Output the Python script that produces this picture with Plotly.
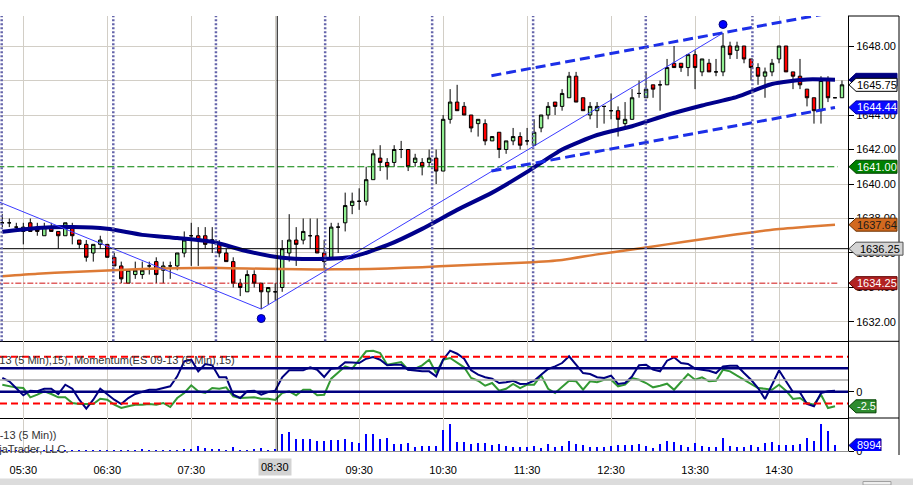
import pandas as pd
import plotly.graph_objects as go
from plotly.subplots import make_subplots

# ES 09-13, 5 minute bars, 05:15 .. 15:15 (Chicago)
BASE = pd.Timestamp("2013-08-20 05:15")

opens = [1637.75, 1637.75, 1637.5, 1637.25, 1637.75, 1637.5, 1637.0, 1637.5, 1637.25, 1637.0,
         1637.5, 1636.75, 1636.5, 1636.0, 1636.5, 1636.5, 1635.75, 1635.25, 1634.25, 1634.75,
         1634.75, 1635.25, 1635.5, 1635.0, 1635.25, 1635.25, 1636.0, 1637.0, 1637.0, 1637.0,
         1636.75, 1636.5, 1636.0, 1635.5, 1634.25, 1633.75, 1634.75, 1634.25, 1633.75, 1633.75,
         1634.0, 1636.0, 1636.75, 1636.75, 1637.0, 1637.0, 1636.0, 1635.75, 1637.5, 1637.75,
         1638.75, 1639.0, 1639.0, 1640.25, 1641.5, 1641.25, 1641.25, 1642.0, 1642.0, 1641.25,
         1641.25, 1641.25, 1641.5, 1640.75, 1643.75, 1644.75, 1644.5, 1644.0, 1643.5, 1643.5,
         1642.5, 1643.0, 1642.0, 1642.5, 1642.75, 1642.5, 1642.25, 1643.25, 1644.0, 1644.75,
         1644.5, 1645.0, 1646.25, 1645.0, 1644.0, 1644.25, 1644.5, 1644.25, 1644.25, 1643.5,
         1643.75, 1645.25, 1645.0, 1645.75, 1645.75, 1645.75, 1647.0, 1647.0, 1646.75, 1647.5,
         1646.5, 1647.0, 1646.5, 1646.5, 1648.0, 1647.75, 1648.0, 1647.25, 1646.75, 1646.25,
         1646.5, 1647.25, 1648.0, 1646.5, 1646.25, 1645.5, 1645.0, 1644.25, 1646.0, 1645.0,
         1645.0]
highs = [1638.25, 1638.0, 1637.75, 1637.75, 1638.0, 1637.75, 1637.75, 1637.75, 1637.25, 1637.75,
         1637.75, 1636.75, 1636.75, 1636.5, 1637.0, 1636.5, 1636.0, 1635.5, 1635.0, 1635.5,
         1635.5, 1635.5, 1635.75, 1635.5, 1635.5, 1636.0, 1637.25, 1637.75, 1637.5, 1637.5,
         1637.5, 1636.75, 1636.25, 1635.75, 1634.5, 1635.0, 1635.0, 1634.25, 1634.0, 1634.25,
         1636.75, 1638.25, 1637.5, 1638.0, 1638.0, 1638.0, 1636.75, 1637.75, 1637.75, 1639.5,
         1639.5, 1639.75, 1641.0, 1642.0, 1642.25, 1641.5, 1642.25, 1642.5, 1642.0, 1641.75,
         1641.5, 1642.0, 1642.0, 1644.0, 1645.5, 1645.75, 1644.75, 1644.0, 1643.75, 1643.75,
         1642.75, 1643.0, 1642.5, 1643.25, 1643.0, 1643.25, 1643.75, 1644.0, 1644.75, 1644.75,
         1645.5, 1646.5, 1646.5, 1645.0, 1644.75, 1644.75, 1644.5, 1645.25, 1644.5, 1644.75,
         1645.5, 1646.0, 1646.5, 1645.75, 1646.0, 1647.25, 1648.0, 1647.0, 1647.5, 1647.75,
         1647.25, 1647.25, 1647.25, 1648.75, 1648.25, 1648.25, 1648.0, 1647.25, 1647.0, 1646.75,
         1647.25, 1648.0, 1648.0, 1646.5, 1647.25, 1645.5, 1645.0, 1646.25, 1646.25, 1645.0,
         1646.0]
lows = [1637.5, 1637.5, 1637.25, 1636.5, 1637.25, 1637.0, 1637.0, 1637.25, 1636.25, 1637.0,
        1636.5, 1636.25, 1635.5, 1635.5, 1636.25, 1635.75, 1635.25, 1634.25, 1634.25, 1634.5,
        1634.5, 1634.75, 1634.25, 1634.25, 1634.5, 1635.0, 1635.75, 1635.25, 1635.25, 1636.25,
        1636.0, 1635.75, 1635.5, 1634.0, 1633.5, 1633.75, 1634.0, 1632.75, 1633.0, 1633.25,
        1633.75, 1635.5, 1635.25, 1636.5, 1636.25, 1636.0, 1635.0, 1635.75, 1636.0, 1637.25,
        1638.25, 1638.5, 1638.75, 1640.25, 1640.75, 1640.25, 1641.0, 1641.5, 1640.75, 1641.0,
        1640.5, 1641.0, 1640.0, 1640.75, 1643.5, 1644.25, 1644.0, 1643.0, 1642.75, 1642.25,
        1642.5, 1641.5, 1641.75, 1642.25, 1642.0, 1642.25, 1642.25, 1643.0, 1643.75, 1644.0,
        1644.25, 1645.0, 1644.75, 1644.25, 1643.75, 1643.25, 1643.5, 1643.75, 1642.75, 1643.25,
        1643.75, 1645.0, 1645.0, 1645.0, 1644.25, 1645.75, 1646.75, 1646.5, 1646.25, 1645.5,
        1646.25, 1646.5, 1646.25, 1646.25, 1647.25, 1647.25, 1647.0, 1646.0, 1645.75, 1645.0,
        1646.25, 1647.0, 1646.5, 1645.5, 1645.5, 1644.5, 1643.5, 1643.5, 1644.75, 1645.0,
        1645.0]
closes = [1637.75, 1637.75, 1637.5, 1637.5, 1637.25, 1637.25, 1637.5, 1637.25, 1637.0, 1637.75,
          1637.0, 1636.5, 1635.75, 1636.5, 1636.75, 1635.75, 1635.25, 1634.5, 1635.0, 1635.0,
          1635.0, 1635.25, 1634.75, 1635.25, 1635.25, 1636.0, 1636.75, 1637.0, 1636.75, 1636.5,
          1636.75, 1636.0, 1635.5, 1634.25, 1634.0, 1634.75, 1634.25, 1633.75, 1634.0, 1633.75,
          1636.25, 1636.75, 1636.5, 1637.25, 1637.0, 1636.0, 1635.5, 1637.5, 1637.5, 1638.75,
          1639.0, 1639.0, 1640.25, 1641.75, 1641.25, 1641.0, 1642.0, 1642.0, 1641.0, 1641.5,
          1641.0, 1641.5, 1640.75, 1643.75, 1644.75, 1644.25, 1644.0, 1643.25, 1643.75, 1642.5,
          1642.75, 1642.0, 1642.5, 1642.75, 1642.25, 1642.5, 1643.0, 1644.0, 1644.5, 1644.5,
          1645.25, 1646.25, 1644.75, 1644.25, 1644.5, 1644.5, 1644.5, 1644.25, 1643.75, 1643.75,
          1645.0, 1645.25, 1645.5, 1645.5, 1645.75, 1646.75, 1646.75, 1646.75, 1647.5, 1646.75,
          1647.25, 1646.5, 1646.5, 1648.0, 1647.5, 1648.0, 1647.25, 1646.75, 1646.25, 1646.5,
          1647.0, 1648.0, 1646.5, 1646.25, 1645.75, 1645.0, 1644.25, 1646.0, 1645.0, 1645.0,
          1645.75]

# volume per bar (indicators stop at the bar before the forming one)
volumes = [400, 400, 400, 400, 400, 400, 400, 400, 400, 400,
           400, 400, 1100, 1100, 1100, 400, 1100, 1100, 400, 400,
           2100, 400, 1100, 1100, 1100, 1300, 2700, 3700, 8000, 4800,
           3200, 3200, 400, 6400, 1600, 1600, 2100, 4800, 1600, 3200,
           27200, 30400, 19700, 19700, 18700, 16000, 16000, 17600, 17600, 18700,
           14400, 13300, 27200, 27200, 19700, 21300, 10700, 10700, 12300, 6900,
           8000, 8000, 8000, 33600, 43200, 14400, 14400, 10700, 12300, 12300,
           9100, 10700, 8000, 6900, 6900, 6900, 8000, 5300, 10700, 6900,
           8000, 16000, 10700, 9100, 6400, 6900, 6900, 8000, 9100, 9100,
           9100, 10700, 8000, 5300, 10700, 16000, 14400, 9100, 6400, 12300,
           8000, 6900, 6900, 20300, 8000, 6900, 6900, 9600, 6400, 13300,
           14400, 9100, 9100, 9100, 10700, 20300, 16500, 43200, 32500, 8994]

momentum_navy = [2.35, 1.78, 0.6, -0.62, 0.17, 0.07, 0.51, 0.51, -0.39, 1.2,
                 0.51, -1.37, -2.91, -1.37, 0.51, -0.51, -1.37, -2.1, -1.08, -0.39,
                 -0.05, 0.34, 0.34, 0.63, 0.92, 2.63, 5.2, 5.48, 3.49, 4.74,
                 4.52, 2.47, 2.47, -0.51, -1.08, 0.07, 0.17, -0.51, -0.05, 0.17,
                 2.47, 3.66, 3.66, 3.66, 4.18, 3.77, 2.52, 3.94, 4.06, 5.03,
                 5.0, 4.91, 5.65, 5.94, 5.48, 4.52, 4.6, 4.62, 3.77, 3.6,
                 3.49, 3.49, 2.63, 5.48, 7.02, 6.5, 5.65, 3.66, 2.91, 2.47,
                 2.23, 1.49, 1.61, 1.88, 1.32, 1.37, 1.88, 2.91, 3.89, 4.34,
                 4.91, 6.06, 4.62, 3.2, 3.03, 2.47, 2.35, 2.74, 1.32, 1.49,
                 2.63, 4.52, 4.62, 3.77, 3.49, 5.31, 5.89, 4.91, 4.74, 3.94,
                 3.77, 3.6, 3.2, 4.34, 4.45, 4.45, 3.2, 2.05, 0.63, -1.25,
                 1.2, 3.66, 1.78, -0.05, -0.11, -2.1, -2.5, -0.22, 0.07, 0.17]
momentum_green = [1.2, 0.92, 0.7, 0.63, -0.96, -0.51, 0.07, -0.39, -0.96, -0.96,
                  -1.93, -2.1, -2.1, -2.1, -1.2, -1.37, -2.22, -2.79, -2.5, -2.22,
                  -2.22, -2.1, -2.22, -1.93, -2.62, -1.08, -0.22, 1.1, 0.07, -0.22,
                  0.63, 0.51, 0.75, -0.79, -1.08, -0.96, -0.96, -1.2, -1.2, -1.4,
                  -0.22, 0.07, -0.62, 0.34, 0.34, -0.62, -0.51, 2.23, 3.37, 4.34,
                  3.94, 5.48, 6.92, 7.02, 6.6, 4.62, 4.91, 5.08, 3.77, 3.94,
                  4.52, 5.48, 3.2, 5.48, 5.77, 5.0, 4.18, 2.35, 1.88, 1.03,
                  1.49, 0.17, 0.51, 1.32, 0.63, 1.2, 1.2, 2.8, 0.51, -0.22,
                  0.75, 1.88, 1.78, 0.34, 1.78, 1.61, 2.05, 2.05, 0.92, 1.2,
                  2.35, 2.05, 1.49, 0.75, 1.03, 1.37, 0.34, 1.78, 3.03, 2.05,
                  2.47, 1.78, 1.88, 3.77, 3.49, 2.74, 2.05, 1.32, 0.63, 0.51,
                  0.34, 1.2, 0.17, -1.25, -1.08, -1.93, -2.22, -0.51, -2.79, -2.5]

# moving averages read at every 5th bar
ma_bars = [0, 5, 10, 15, 20, 25, 30, 35, 40, 45, 50, 55, 60, 65, 70, 75, 80, 85, 90, 95,
           100, 105, 110, 115, 119]
ma_fast = [1637.23, 1637.45, 1637.5, 1637.4, 1637.05, 1636.87, 1636.65, 1636.1, 1635.72, 1635.65,
           1635.78, 1636.45, 1637.4, 1638.5, 1639.5, 1640.7, 1642.0, 1642.84, 1643.35, 1644.0,
           1644.55, 1645.05, 1645.8, 1646.06, 1646.04]
ma_slow = [1634.65, 1634.8, 1634.9, 1634.98, 1635.07, 1635.12, 1635.14, 1635.1, 1635.07, 1635.05,
           1635.06, 1635.1, 1635.18, 1635.27, 1635.36, 1635.45, 1635.6, 1635.92, 1636.2, 1636.5,
           1636.8, 1637.08, 1637.35, 1637.52, 1637.64]

# drawing objects (bar position, price)
zigzag_bars = [-5, 37, 103]
zigzag_prices = [1639.71, 1632.75, 1648.75]
swing_dot_bars = [37, 103]
swing_dot_prices = [1632.2, 1649.25]
channel_bars = [69.9, 119]
channel_upper = [1646.28, 1649.97]
channel_lower = [1640.75, 1644.44]
dotted_bars = [-0.09, 15.86, 30.53, 46.14, 61.43, 75.86, 91.96, 107.2]
marker_line_bar = 39.29

level_green = 1641.00
level_black = 1636.25
level_red = 1634.25

hour_ticks = ["05:30", "06:30", "07:30", "08:30", "09:30", "10:30", "11:30", "12:30", "13:30", "14:30"]

FONT = "Arial, Liberation Sans, sans-serif"


def bar_time(i):
    return BASE + pd.Timedelta(minutes=5 * i)


times = [bar_time(i) for i in range(len(opens))]
ind_times = times[:len(volumes)]

fig = make_subplots(rows=3, cols=1, shared_xaxes=True, vertical_spacing=0)

fig.add_trace(go.Candlestick(
    x=times, open=opens, high=highs, low=lows, close=closes,
    increasing=dict(fillcolor="#90ee90", line=dict(color="black", width=1)),
    decreasing=dict(fillcolor="#ff0000", line=dict(color="black", width=1)),
    whiskerwidth=0, hoverinfo="skip", showlegend=False), row=1, col=1)

# horizontal level lines (end at the last completed bar)
for level, color, dash in [(level_green, "#008000", "7px,3px"), (level_red, "#d01010", "6px,2px,2px,2px")]:
    fig.add_trace(go.Scatter(x=[bar_time(-5), bar_time(119.4)], y=[level, level], mode="lines",
                             line=dict(color=color, width=1, dash=dash), hoverinfo="skip",
                             showlegend=False), row=1, col=1)

fig.add_trace(go.Scatter(x=[bar_time(i) for i in ma_bars], y=ma_slow, mode="lines",
                         line=dict(color="#dd7a35", width=2.5, shape="spline", smoothing=0.6),
                         hoverinfo="skip", showlegend=False), row=1, col=1)
fig.add_trace(go.Scatter(x=[bar_time(i) for i in ma_bars], y=ma_fast, mode="lines",
                         line=dict(color="#00008b", width=4, shape="spline", smoothing=0.6),
                         hoverinfo="skip", showlegend=False), row=1, col=1)

fig.add_trace(go.Scatter(x=[bar_time(i) for i in zigzag_bars], y=zigzag_prices, mode="lines",
                         line=dict(color="#3a3aff", width=1), hoverinfo="skip", showlegend=False),
              row=1, col=1)
for band in (channel_upper, channel_lower):
    fig.add_trace(go.Scatter(x=[bar_time(i) for i in channel_bars], y=band, mode="lines",
                             line=dict(color="#1c2fe8", width=3, dash="10px,5px"),
                             hoverinfo="skip", showlegend=False), row=1, col=1)
fig.add_trace(go.Scatter(x=[bar_time(i) for i in swing_dot_bars], y=swing_dot_prices, mode="markers",
                         marker=dict(color="#0000ff", size=8, line=dict(color="#000080", width=1)),
                         hoverinfo="skip", showlegend=False), row=1, col=1)

# momentum panel
fig.add_trace(go.Scatter(x=ind_times, y=momentum_green, mode="lines",
                         line=dict(color="#339933", width=2), hoverinfo="skip", showlegend=False),
              row=2, col=1)
fig.add_trace(go.Scatter(x=ind_times, y=momentum_navy, mode="lines",
                         line=dict(color="#000080", width=2), hoverinfo="skip", showlegend=False),
              row=2, col=1)

# volume panel
fig.add_trace(go.Bar(x=ind_times, y=volumes, width=90000, marker=dict(color="#0000ff", line=dict(width=0)),
                     hoverinfo="skip", showlegend=False), row=3, col=1)

shapes = []
annotations = []

shapes.append(dict(type="line", xref="paper", yref="y", x0=0, x1=1, y0=level_black, y1=level_black,
                   line=dict(color="black", width=1)))
for b in dotted_bars:
    shapes.append(dict(type="line", xref="x", yref="y domain", x0=bar_time(b), x1=bar_time(b), y0=0, y1=1,
                       line=dict(color="#6464aa", width=2.5, dash="2px,2px")))
shapes.append(dict(type="line", xref="x", yref="paper", x0=bar_time(marker_line_bar), x1=bar_time(marker_line_bar),
                   y0=0, y1=1, line=dict(color="black", width=1)))

for val, color, width, dash in [(6, "#ff0000", 2, "7px,4px"), (4, "#000080", 2.5, "solid"),
                                (2, "#a8a8a8", 1.5, "solid"), (0, "#000080", 2.5, "solid"),
                                (-2, "#ff0000", 2, "7px,4px")]:
    shapes.append(dict(type="line", xref="paper", yref="y2", x0=0, x1=1, y0=val, y1=val,
                       line=dict(color=color, width=width, dash=dash)))

PX_W = 848.0
PX_H = 435.0


def px_y(py):
    return (451 - py) / PX_H


# panel frame pieces outside the axes
for py in (341.3, 418):
    shapes.append(dict(type="line", xref="paper", yref="paper", x0=1, x1=899 / PX_W, y0=px_y(py), y1=px_y(py),
                       line=dict(color="black", width=1)))
shapes.append(dict(type="line", xref="paper", yref="paper", x0=1, x1=899 / PX_W, y0=1, y1=1,
                   line=dict(color="black", width=1)))
shapes.append(dict(type="line", xref="paper", yref="paper", x0=899 / PX_W, x1=899 / PX_W, y0=px_y(455), y1=1,
                   line=dict(color="black", width=1)))
# scroll bar strip
shapes.append(dict(type="rect", xref="paper", yref="paper", x0=0, x1=913 / PX_W, y0=px_y(485), y1=px_y(478.5),
                   fillcolor="#dcdcdc", line=dict(width=0), layer="below"))
shapes.append(dict(type="rect", xref="paper", yref="paper", x0=863 / PX_W, x1=891 / PX_W, y0=px_y(485), y1=px_y(481.5),
                   fillcolor="#eeeeee", line=dict(color="#a0a0a0", width=1)))


def tag(yref, yval, text, fill, font_color, border, w=49, show_text=True):
    shapes.append(dict(type="path", xref="paper", yref=yref, xsizemode="pixel", ysizemode="pixel",
                       xanchor=1, yanchor=yval,
                       path=f"M 1,0 L 8,6.5 L {w},6.5 L {w},-6.5 L 8,-6.5 Z",
                       fillcolor=fill, line=dict(color=border, width=1)))
    if show_text:
        annotations.append(dict(xref="paper", yref=yref, x=1, y=yval, xanchor="center", yanchor="middle",
                                xshift=(8 + w) / 2 + 0.5, text=text, showarrow=False,
                                font=dict(family=FONT, size=11, color=font_color)))


tag("y", 1646.04, "1646.04", "#000080", "white", "#000080", show_text=False)
tag("y", closes[-1], f"{closes[-1]:.2f}", "white", "black", "black")
tag("y", channel_lower[-1], f"{channel_lower[-1]:.2f}", "#0a0aff", "white", "#0000a0")
tag("y", level_green, f"{level_green:.2f}", "#008000", "white", "#004000")
tag("y", ma_slow[-1], f"{ma_slow[-1]:.2f}", "#d2691e", "#1a1a1a", "#6a3000")
tag("y", level_black, f"{level_black:.2f}", "#d3d3d3", "black", "#505050", w=55)
tag("y", level_red, f"{level_red:.2f}", "#b22222", "white", "#600000")
tag("y2", momentum_green[-1], f"{momentum_green[-1]:.1f}", "#2e8b2e", "white", "#004000", w=28)
tag("y3", volumes[-1], f"{volumes[-1]}", "#0000ff", "white", "#000080", w=33)

annotations.append(dict(xref="paper", yref="paper", x=237 / PX_W, y=px_y(359.7), xanchor="right", yanchor="middle",
                        text="Momentum(ES 09-13 (5 Min),15), Momentum(ES 09-13 (5 Min),15)", showarrow=False,
                        font=dict(family=FONT, size=11, color="#333333")))
annotations.append(dict(xref="paper", yref="paper", x=58 / PX_W, y=px_y(435), xanchor="right", yanchor="middle",
                        text="VOL(ES 09-13 (5 Min))", showarrow=False,
                        font=dict(family=FONT, size=11, color="#333333")))
annotations.append(dict(xref="paper", yref="paper", x=71 / PX_W, y=px_y(448.5), xanchor="right", yanchor="middle",
                        text="© 2013 NinjaTrader, LLC.", showarrow=False,
                        font=dict(family=FONT, size=11, color="#333333")))
# highlighted time of the vertical marker
annotations.append(dict(xref="x3", yref="paper", x=pd.Timestamp("2013-08-20 08:30"), y=px_y(466.5),
                        xanchor="center", yanchor="middle", text="08:30", showarrow=False,
                        bgcolor="#d3d3d3", borderpad=2,
                        font=dict(family=FONT, size=11, color="black")))

x_range = [bar_time(-0.33), bar_time(120.86)]
tick_vals = [pd.Timestamp("2013-08-20 " + t) for t in hour_ticks]

for row in (1, 2, 3):
    fig.update_xaxes(row=row, col=1, type="date", range=x_range, tickvals=tick_vals, ticktext=hour_ticks,
                     showgrid=True, gridcolor="#d2cec6", gridwidth=1, showline=True,
                     linecolor="black" if row < 3 else "#909090", linewidth=1, zeroline=False,
                     rangeslider=dict(visible=False), fixedrange=True)
fig.update_xaxes(row=3, col=1, ticks="outside", ticklen=9, tickcolor="rgba(0,0,0,0)",
                 tickfont=dict(family=FONT, size=11, color="black"))

fig.update_yaxes(row=1, col=1, side="right", range=[1630.88, 1649.74], tick0=1632, dtick=2, tickformat=".2f",
                 showgrid=True, gridcolor="#d2cec6", zeroline=False, showline=True, linecolor="black",
                 ticks="outside", ticklen=5, tickcolor="black", tickfont=dict(family=FONT, size=11, color="black"),
                 domain=[px_y(341.3), 1], fixedrange=True)
fig.update_yaxes(row=2, col=1, side="right", range=[-4.5, 8.63], tickvals=[0], ticktext=["0"],
                 showgrid=False, zeroline=False, showline=True, linecolor="black",
                 ticks="outside", ticklen=5, tickcolor="black", tickfont=dict(family=FONT, size=11, color="black"),
                 domain=[px_y(418), px_y(341.3)], fixedrange=True)
fig.update_yaxes(row=3, col=1, side="right", range=[0, 52800], tickvals=[0], ticktext=["0"],
                 showgrid=False, zeroline=False, showline=True, linecolor="black",
                 ticks="outside", ticklen=5, tickcolor="black", tickfont=dict(family=FONT, size=11, color="black"),
                 domain=[0, px_y(418)], fixedrange=True)

fig.update_layout(
    width=913, height=485,
    margin=dict(l=0, r=65, t=16, b=34),
    paper_bgcolor="white", plot_bgcolor="white",
    font=dict(family=FONT, size=11, color="black"),
    showlegend=False, hovermode=False, bargap=0,
    shapes=shapes, annotations=annotations,
)

# the page's default body margin would shift the chart by 8px
fig.write_html("out.html", config={"displayModeBar": False},
               post_script="document.body.style.margin='0';document.body.style.overflow='hidden';")
